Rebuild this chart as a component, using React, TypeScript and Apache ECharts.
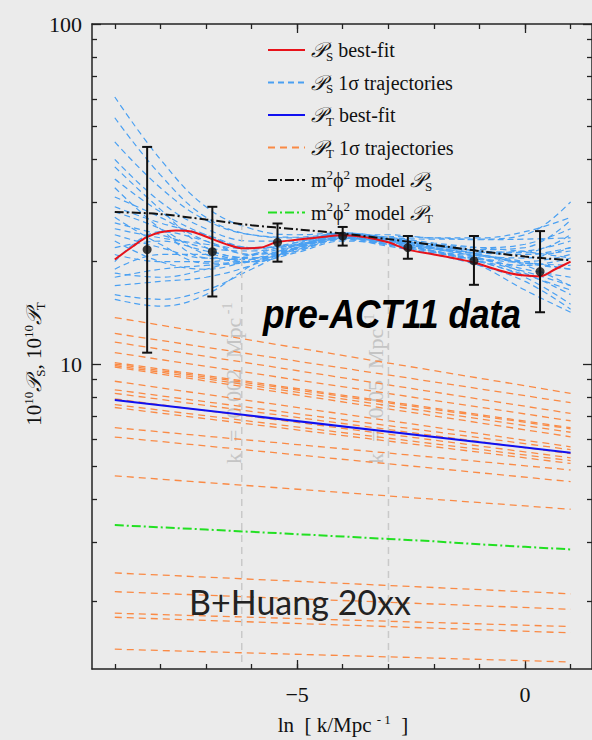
import React, { useEffect, useRef } from 'react';
import * as echarts from 'echarts';

// ---------- data ----------
const xMin = -9.5;
const xMax = 1.47;
const yMin = 1.268;
const yMax = 100;

const xMinorTicks = [-9, -8, -7, -6, -5, -4, -3, -2, -1, 0, 1];
const xMajorTicks = [-5, 0];
const yMinorTicks = [2, 3, 4, 5, 6, 7, 8, 9, 20, 30, 40, 50, 60, 70, 80, 90];
const yMajorTicks = [10, 100];

// P_S best fit (red)
const psBestX = [-9, -8.6, -8.3, -8.0, -7.66, -7.3, -6.86, -6.5, -6.19, -5.8, -5.46, -5.0, -4.5, -4.0, -3.5, -3.0, -2.57, -2.0, -1.5, -1.12, -0.7, -0.33, 0.0, 0.33, 0.66, 1.0];
const psBestY = [20.3, 22.2, 23.6, 24.4, 24.7, 24.5, 23.3, 22.4, 21.9, 22.0, 22.8, 23.2, 23.6, 23.9, 23.6, 22.8, 21.7, 21.0, 20.4, 19.9, 19.1, 18.5, 18.2, 18.1, 19.0, 20.0];

// P_S 1-sigma trajectories (blue dashed), sampled at trajX
const trajX = [-9, -8, -7, -6, -5, -4, -3, -2, -1, 0, 1];
const psTrajectories = [
  [61, 40, 29, 25, 24, 24.3, 23.5, 22.5, 21.5, 21, 22],
  [53, 36, 27, 24, 23.5, 24, 23, 22, 21, 20, 19],
  [45, 33, 26.5, 24, 23.6, 24.2, 23.3, 22.3, 21, 19.5, 17],
  [40, 30, 25, 23, 23, 23.8, 23, 22, 20.5, 18.5, 16],
  [35, 28, 24, 22, 22.5, 23.5, 22.8, 21.8, 20.8, 20, 21],
  [31, 27, 23, 21, 22, 23.5, 23, 22.5, 22, 22.5, 25],
  [28, 25, 21, 20, 21.5, 23.3, 22.5, 21.5, 20, 18, 15],
  [26, 24, 22, 21.5, 22.5, 23.8, 23.2, 22, 21.3, 21.5, 23],
  [24, 22, 20.5, 20.5, 22, 23.6, 22.8, 21.5, 20.5, 19, 18],
  [22, 23, 21.5, 20.5, 22, 24, 23.5, 23.3, 23.3, 24, 30],
  [20, 24.5, 23, 21, 21.8, 23.2, 22.2, 21, 19.5, 17.5, 14.5],
  [19, 21, 21, 20, 21.3, 23, 22.5, 21.5, 20.3, 19.5, 20.5],
  [18, 19, 19.5, 20, 21.8, 23.7, 23, 21.8, 20.8, 20.5, 22],
  [17, 17.5, 18, 19.5, 22, 24, 23.2, 22, 21, 19.8, 19],
  [16, 15.5, 16.5, 19, 22, 23.8, 22.5, 21.3, 20.1, 18.7, 17],
  [15.5, 14.8, 16, 19.5, 22.5, 24.2, 23.4, 22.2, 21.5, 21.3, 24],
  [23, 20, 19, 20.3, 22.3, 24, 24, 23.5, 23.5, 24.5, 27],
  [27, 22.5, 19.8, 20, 22, 23.5, 22.6, 21.4, 20, 18.3, 16.5],
  [33, 25, 20.5, 20.3, 21.7, 23.4, 22.8, 21.8, 21.2, 21, 21.5],
  [21, 20, 20, 21, 22.8, 24.1, 23.3, 22.3, 21.7, 22, 26.5],
  [25, 23.5, 22.5, 21.8, 22.8, 24.3, 23.6, 22.7, 22, 21.4, 20.5],
  [18.5, 18, 19, 20.8, 22.3, 23.6, 23, 21.5, 19.5, 16.5, 14.2],
  [29, 26, 24, 22, 22.3, 23.5, 23.7, 23.5, 23.2, 23.3, 23.5],
  [38, 28.5, 22, 20.5, 21.5, 23.4, 22.4, 21.2, 20.4, 19.8, 19.5],
];

// P_T best fit (blue) and 1-sigma trajectories (orange), at x = -9 and x = 1
const ptEndsX = [-9, 1];
const ptBest = [7.84, 5.48];
const ptTrajStart = [13.7, 12.3, 11.6, 10.8, 10.1, 10.0, 9.9, 9.8, 8.9, 8.4, 8.2, 7.9, 7.6, 7.45, 6.5, 6.1, 4.69, 2.43, 2.14, 1.85, 1.80, 1.45];
const ptTrajEnd = [8.2, 7.7, 7.16, 6.81, 6.5, 6.45, 6.3, 6.11, 5.71, 5.6, 5.45, 5.3, 5.2, 5.1, 4.88, 4.51, 3.74, 2.11, 1.9, 1.69, 1.62, 1.33];

// m^2 phi^2 model
const modelX = [-9, -8, -7, -6, -5, -4, -3, -2, -1, 0, 1];
const modelPS = [28.0, 27.6, 26.6, 25.6, 24.9, 24.2, 23.3, 22.4, 21.5, 20.7, 20.2];
const modelPT = [3.36, 3.31, 3.26, 3.21, 3.16, 3.11, 3.06, 3.01, 2.95, 2.90, 2.85];

// pre-ACT11 data points
const dataX = [-8.29, -6.86, -5.43, -4.0, -2.57, -1.12, 0.33];
const dataY = [21.7, 21.4, 22.8, 23.8, 22.0, 20.1, 18.7];
const dataLo = [10.8, 15.8, 20.0, 22.3, 20.4, 17.1, 14.2];
const dataHi = [43.5, 29.0, 25.9, 25.3, 23.8, 23.8, 24.6];

// pivot scales
const pivotK = [0.002, 0.05];
const pivotLabels = ['0.002', '0.05'];
const pivotSpan = [1.33, 26.8];

// ---------- styles ----------
const SERIF = '"Liberation Serif", "Times New Roman", "DejaVu Serif", serif';
const RED = '#e8121a';
const LIGHTBLUE = '#4aa0f2';
const BLUE = '#1010f0';
const ORANGE = '#fa8a45';
const GREEN = '#22e022';
const BG = '#ebebeb';
const INK = '#111';

const legendRich = {
  t: { fontFamily: SERIF, fontSize: 20, color: INK, fill: INK },
  x: { fontFamily: SERIF, fontSize: 21, color: INK, fill: INK },
  p: { fontFamily: SERIF, fontSize: 21, color: INK, fill: INK, fontStyle: 'italic' },
  s: { fontFamily: SERIF, fontSize: 13, color: INK, fill: INK, padding: [12, 0, 0, 0] },
  u: { fontFamily: SERIF, fontSize: 13, color: INK, fill: INK, padding: [0, 0, 12, 0] },
};

export default function App() {
  const ref = useRef<HTMLDivElement>(null);

  useEffect(() => {
    if (!ref.current) return;
    const chart = echarts.init(ref.current, null, { renderer: 'svg' });

    const series: any[] = [];

    // vertical pivot lines
    pivotK.forEach((k, i) => {
      series.push({
        type: 'line', name: 'pivot' + i, xAxisIndex: 0, yAxisIndex: 0,
        data: pivotSpan.map((v) => [Math.log(k), v]),
        symbol: 'none', silent: true, z: 3,
        lineStyle: { color: '#c9c9c9', width: 1.5, type: [7, 5] },
      });
    });

    // orange trajectories
    ptTrajStart.forEach((s, i) => {
      series.push({
        type: 'line', xAxisIndex: 0, yAxisIndex: 0,
        data: [[ptEndsX[0], s], [ptEndsX[1], ptTrajEnd[i]]],
        symbol: 'none', z: 2,
        lineStyle: { color: ORANGE, width: 1.3, type: [7, 5] },
      });
    });

    // blue trajectories
    psTrajectories.forEach((arr) => {
      series.push({
        type: 'line', xAxisIndex: 0, yAxisIndex: 0,
        data: arr.map((v, j) => [trajX[j], v]),
        symbol: 'none', smooth: 0.4, z: 2,
        lineStyle: { color: LIGHTBLUE, width: 1.2, type: [6, 4] },
      });
    });

    series.push({
      type: 'line', xAxisIndex: 0, yAxisIndex: 0,
      data: ptEndsX.map((x, i) => [x, ptBest[i]]),
      symbol: 'none', z: 4,
      lineStyle: { color: BLUE, width: 2 },
    });
    series.push({
      type: 'line', xAxisIndex: 0, yAxisIndex: 0,
      data: psBestX.map((x, i) => [x, psBestY[i]]),
      symbol: 'none', smooth: 0.3, z: 5,
      lineStyle: { color: RED, width: 2 },
    });
    series.push({
      type: 'line', xAxisIndex: 0, yAxisIndex: 0,
      data: modelX.map((x, i) => [x, modelPS[i]]),
      symbol: 'none', smooth: 0.3, z: 6,
      lineStyle: { color: INK, width: 2, type: [9, 3, 2, 3] },
    });
    series.push({
      type: 'line', xAxisIndex: 0, yAxisIndex: 0,
      data: modelX.map((x, i) => [x, modelPT[i]]),
      symbol: 'none', z: 6,
      lineStyle: { color: GREEN, width: 2, type: [9, 3, 2, 3] },
    });

    // error bars
    series.push({
      type: 'custom', xAxisIndex: 0, yAxisIndex: 0, z: 7,
      data: dataX.map((x, i) => [x, dataLo[i], dataHi[i]]),
      renderItem: (params: any, api: any) => {
        const x = api.value(0);
        const pLo = api.coord([x, api.value(1)]);
        const pHi = api.coord([x, api.value(2)]);
        const cap = 5;
        const style = { stroke: INK, lineWidth: 2 };
        return {
          type: 'group',
          children: [
            { type: 'line', shape: { x1: pLo[0], y1: pLo[1], x2: pHi[0], y2: pHi[1] }, style },
            { type: 'line', shape: { x1: pLo[0] - cap, y1: pLo[1], x2: pLo[0] + cap, y2: pLo[1] }, style },
            { type: 'line', shape: { x1: pHi[0] - cap, y1: pHi[1], x2: pHi[0] + cap, y2: pHi[1] }, style },
          ],
        };
      },
    });
    series.push({
      type: 'scatter', xAxisIndex: 0, yAxisIndex: 0, z: 8,
      data: dataX.map((x, i) => [x, dataY[i]]),
      symbol: 'circle', symbolSize: 9,
      itemStyle: { color: INK },
    });

    const axisLineStyle = { color: '#222', width: 1.5 };
    const tickStyle = { color: '#222', width: 1.3 };

    const mkX = (pos: string, major: boolean, labels: boolean) => ({
      type: 'value', gridIndex: 0, min: xMin, max: xMax, position: pos,
      axisLine: { show: major, onZero: false, lineStyle: axisLineStyle },
      axisTick: { show: true, inside: true, length: major ? 9 : 5, customValues: major ? xMajorTicks : xMinorTicks, lineStyle: tickStyle },
      axisLabel: {
        show: labels, customValues: xMajorTicks, margin: 14,
        fontFamily: SERIF, fontSize: 22, color: INK,
        formatter: (v: number) => (v < 0 ? '\u2212' + Math.abs(Math.round(v)) : String(Math.round(v))),
      },
      splitLine: { show: false },
    });
    const mkY = (pos: string, major: boolean, labels: boolean) => ({
      type: 'log', logBase: 10, gridIndex: 0, min: yMin, max: yMax, position: pos,
      axisLine: { show: major, onZero: false, lineStyle: axisLineStyle },
      axisTick: { show: true, inside: true, length: major ? 9 : 5, customValues: major ? yMajorTicks : yMinorTicks, lineStyle: tickStyle },
      axisLabel: {
        show: labels, customValues: yMajorTicks, margin: 10,
        fontFamily: SERIF, fontSize: 22, color: INK,
        formatter: (v: number) => String(Math.round(v)),
      },
      splitLine: { show: false },
    });

    const legendRows = [
      { text: '{p|\uD835\uDCAB}{s|S}{t| best-fit}', color: RED, dash: 'solid' },
      { text: '{p|\uD835\uDCAB}{s|S}{t| 1\u03C3 trajectories}', color: LIGHTBLUE, dash: [6, 4] },
      { text: '{p|\uD835\uDCAB}{s|T}{t| best-fit}', color: BLUE, dash: 'solid' },
      { text: '{p|\uD835\uDCAB}{s|T}{t| 1\u03C3 trajectories}', color: ORANGE, dash: [7, 5] },
      { text: '{t|m}{u|2}{t|\u03D5}{u|2}{t| model }{p|\uD835\uDCAB}{s|S}', color: INK, dash: [9, 3, 2, 3] },
      { text: '{t|m}{u|2}{t|\u03D5}{u|2}{t| model }{p|\uD835\uDCAB}{s|T}', color: GREEN, dash: [9, 3, 2, 3] },
    ];
    const legendY0 = 50;
    const legendDy = 32.5;
    const graphics: any[] = [];
    legendRows.forEach((r, i) => {
      const y = legendY0 + i * legendDy;
      graphics.push({
        type: 'line', shape: { x1: 268, y1: y, x2: 305, y2: y },
        style: { stroke: r.color, lineWidth: 2, lineDash: r.dash === 'solid' ? null : r.dash },
        z: 20,
      });
      graphics.push({
        type: 'text', x: 311, y, z: 20,
        style: { text: r.text, rich: legendRich, align: 'left', verticalAlign: 'middle' },
      });
    });

    // y axis title
    graphics.push({
      type: 'text', x: 34, y: 364, rotation: Math.PI / 2, z: 20,
      style: {
        text: '{x|10}{u|10}{p|\uD835\uDCAB}{s|S}{x|, 10}{u|10}{p|\uD835\uDCAB}{s|T}',
        rich: legendRich, align: 'center', verticalAlign: 'middle',
      },
    });
    // x axis title
    graphics.push({
      type: 'text', x: 343, y: 725, z: 20,
      style: {
        text: '{x|ln  [ k/Mpc }{u|- 1}{x|  ]}',
        rich: legendRich, align: 'center', verticalAlign: 'middle',
      },
    });

    // pivot labels
    const pivotLabelX = [233, 375];
    const GREY = '#c4c4c4';
    pivotLabels.forEach((lab, i) => {
      graphics.push({
        type: 'text', x: pivotLabelX[i], y: 464, rotation: Math.PI / 2, z: 1,
        style: {
          text: '{a|k  =  ' + lab + '  Mpc}{b| -1}',
          fill: GREY,
          rich: {
            a: { fontFamily: SERIF, fontSize: 22, color: GREY, fill: GREY },
            b: { fontFamily: SERIF, fontSize: 14, color: GREY, fill: GREY, padding: [0, 0, 12, 0] },
          },
          align: 'left', verticalAlign: 'middle',
        },
      });
    });

    graphics.push({
      type: 'text', x: 263, y: 314, scaleX: 0.86, z: 20,
      style: {
        text: 'pre-ACT11 data', fontFamily: '"Liberation Sans", Arial, sans-serif',
        fontWeight: 'bold', fontStyle: 'italic', fontSize: 41, fill: '#000',
        align: 'left', verticalAlign: 'middle',
      },
    });
    graphics.push({
      type: 'text', x: 300, y: 601, z: 20,
      style: {
        text: 'B+Huang 20xx', fontFamily: 'Lato, "Open Sans", sans-serif',
        fontSize: 34, fill: '#222', align: 'center', verticalAlign: 'middle',
      },
    });

    chart.setOption({
      animation: false,
      backgroundColor: BG,
      grid: { left: 92, top: 24, width: 500, height: 645, outerBoundsMode: 'none', containLabel: false },
      xAxis: [mkX('bottom', true, true), mkX('bottom', false, false), mkX('top', true, false), mkX('top', false, false)],
      yAxis: [mkY('left', true, true), mkY('left', false, false), mkY('right', true, false), mkY('right', false, false)],
      series,
      graphic: graphics,
    });

    return () => chart.dispose();
  }, []);

  return (
    <div
      ref={ref}
      style={{ position: 'absolute', left: 0, top: 0, width: 592, height: 740, background: BG }}
    />
  );
}
